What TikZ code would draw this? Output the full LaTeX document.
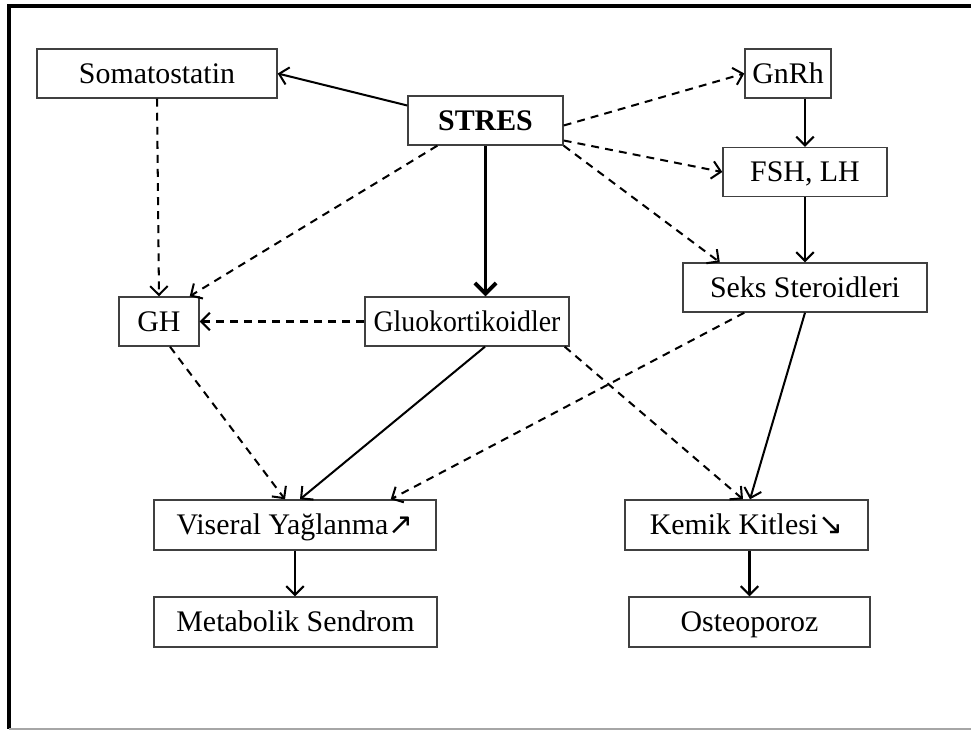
\documentclass[tikz,border=0pt]{standalone}
\usepackage{fontspec}
\setmainfont{Liberation Serif}
\newfontfamily\frecce{DejaVu Sans}
\newfontfamily\stretta[FakeStretch=0.93]{Liberation Serif}
\usetikzlibrary{arrows.meta}
\begin{document}
\begin{tikzpicture}[
    box/.style={draw=black!75, line width=0.8pt, inner sep=0pt,
        minimum height=0.98cm, text height=11.2pt, text depth=0pt,
        font=\fontsize{17}{20}\selectfont},
    freccia/.style={-{Straight Barb[length=5pt,width=10pt]}, line width=1.15pt},
    tratt/.style={freccia, dash pattern=on 4.5pt off 3.5pt}
]
    % Riquadro
    \useasboundingbox (0,0) rectangle (19.42,-14.62);
    \draw[line width=2.3pt] (19.42,-0.12) -- (0.18,-0.12) -- (0.18,-14.58);
    \draw[black!35, line width=0.8pt] (0.18,-14.58) -- (19.42,-14.58);
    % Nodi
    \node[box, minimum width=4.8cm] (soma) at (3.14,-1.47) {Somatostatin};
    \node[box, minimum width=3.1cm] (stres) at (9.71,-2.41) {\textbf{STRES}};
    \node[box, minimum width=1.72cm] (gnrh) at (15.76,-1.47) {GnRh};
    \node[box, minimum width=3.28cm] (fsh) at (16.10,-3.44) {FSH, LH};
    \node[box, minimum width=4.88cm] (seks) at (16.10,-5.75) {Seks Steroidleri};
    \node[box, minimum width=1.6cm] (gh) at (3.18,-6.43) {GH};
    \node[box, minimum width=4.08cm] (gluko) at (9.34,-6.43) {\stretta Gluokortikoidler};
    \node[box, minimum width=5.64cm, minimum height=1cm] (visc) at (5.90,-10.50) {Viseral Yağlanma{\frecce ↗}};
    \node[box, minimum width=4.86cm, minimum height=1cm] (kemik) at (14.93,-10.50) {Kemik Kitlesi{\frecce ↘}};
    \node[box, minimum width=5.66cm, minimum height=1cm] (meta) at (5.91,-12.44) {Metabolik Sendrom};
    \node[box, minimum width=4.82cm, minimum height=1cm] (osteo) at (14.99,-12.44) {Osteoporoz};
    % Frecce dallo stress
    \draw[freccia] ([yshift=0.3cm]stres.west) -- (soma.east);
    \draw[tratt] ([yshift=-0.1cm]stres.east) -- (gnrh.west);
    \draw[tratt] ([yshift=-0.4cm]stres.east) -- (fsh.west);
    \draw[tratt] (stres.south east) -- ([xshift=0.75cm]seks.north west);
    \draw[tratt] ([xshift=0.6cm]stres.south west) -- ([xshift=-0.2cm]gh.north east);
    \draw[-{Straight Barb[length=6pt,width=12pt]}, line width=2.2pt] (stres.south) -- (stres.south |- gluko.north);
    % Asse gonadico
    \draw[freccia] (gnrh.south -| fsh.north) -- (fsh.north);
    \draw[freccia] (fsh.south) -- (seks.north);
    % GH
    \draw[tratt] (soma.south) -- (gh.north);
    \draw[tratt] (gluko.west) -- (gh.east);
    % Effetti
    \draw[tratt] ([xshift=0.22cm]gh.south) -- ([xshift=-0.2cm]visc.north);
    \draw[freccia] ([xshift=0.36cm]gluko.south) -- ([xshift=0.1cm]visc.north);
    \draw[tratt] ([xshift=1.24cm]seks.south west) -- ([xshift=-0.92cm]visc.north east);
    \draw[tratt] ([xshift=-0.1cm]gluko.south east) -- ([xshift=-0.07cm]kemik.north);
    \draw[freccia] (seks.south) -- ([xshift=0.07cm]kemik.north);
    \draw[freccia] (visc.south) -- (visc.south |- meta.north);
    \draw[freccia] ([xshift=0.06cm]kemik.south) -- ([xshift=0.06cm]kemik.south |- osteo.north);
\end{tikzpicture}
\end{document}
